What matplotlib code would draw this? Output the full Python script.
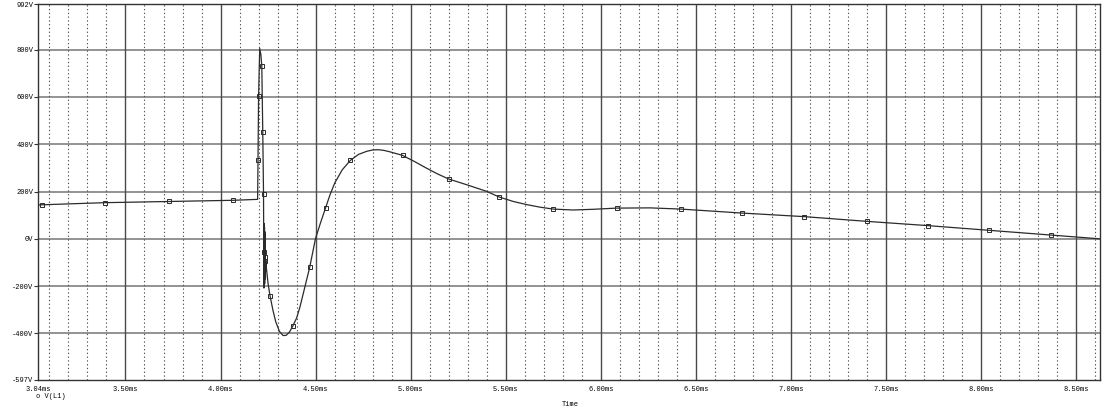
import numpy as np
import matplotlib.pyplot as plt

# Curva V(L1) (tiempo en ms, tension en V)
t_curva = [3.04, 3.059, 3.391, 3.728, 4.064, 4.195, 4.197, 4.200, 4.206, 4.212, 4.217,
           4.222, 4.226, 4.228, 4.229, 4.230, 4.231, 4.232, 4.233, 4.234, 4.235, 4.236,
           4.238, 4.241, 4.250, 4.260, 4.275, 4.290, 4.310, 4.329, 4.345, 4.362, 4.381,
           4.400, 4.417, 4.440, 4.469, 4.499, 4.525, 4.552, 4.575, 4.601, 4.640, 4.683,
           4.725, 4.768, 4.800, 4.829, 4.860, 4.891, 4.957, 5.020, 5.083, 5.140, 5.200,
           5.294, 5.399, 5.465, 5.540, 5.609, 5.680, 5.748, 5.853, 5.960, 6.083, 6.258,
           6.419, 6.743, 7.069, 7.398, 7.719, 8.043, 8.367, 8.625]
v_curva = [143, 144, 153, 158, 163, 167, 332, 605, 805, 780, 729,
           452, 190, -208, 65, -205, 50, -190, 30, -170, -60, -140,
           -90, -123, -190, -240, -300, -350, -392, -409, -408, -395, -367,
           -335, -290, -215, -120, 0, 66, 130, 185, 237, 292, 332,
           357, 370, 376, 377, 374, 368, 353, 327, 299, 275, 253,
           229, 201, 177, 158, 145, 134, 126, 122, 125, 130, 131,
           126, 109, 94, 74, 56, 36, 16, 0]

# Marcadores del trazo
t_marca = [3.059, 3.391, 3.728, 4.064, 4.197, 4.200, 4.217, 4.222, 4.226, 4.229,
           4.236, 4.232, 4.260, 4.381, 4.469, 4.552, 4.683, 4.957, 5.200, 5.465,
           5.748, 6.083, 6.419, 6.743, 7.069, 7.398, 7.719, 8.043, 8.367]
v_marca = [144, 153, 158, 163, 332, 605, 729, 452, 190, -56,
           -78, -92, -240, -367, -120, 130, 332, 353, 253, 177,
           126, 130, 126, 109, 94, 74, 56, 36, 16]

x_ticks = [3.04, 3.5, 4.0, 4.5, 5.0, 5.5, 6.0, 6.5, 7.0, 7.5, 8.0, 8.5]
x_labels = ["3.04ms", "3.50ms", "4.00ms", "4.50ms", "5.00ms", "5.50ms", "6.00ms",
            "6.50ms", "7.00ms", "7.50ms", "8.00ms", "8.50ms"]
y_ticks = [992, 800, 600, 400, 200, 0, -200, -400, -597]
y_labels = ["992V", "800V", "600V", "400V", "200V", "0V", "-200V", "-400V", "-597V"]

fig = plt.figure(figsize=(11.19, 4.2), dpi=100)
ax = fig.add_axes([38 / 1119, 1 - 380 / 420, 1062 / 1119, 375.7 / 420])

fuente = "Liberation Mono"

# rejilla
for y in [800, 600, 400, 200, 0, -200, -400]:
    ax.axhline(y, color="#8a8a8a", lw=1.3, zorder=1)
for x in x_ticks[1:]:
    ax.axvline(x, color="#4a4a4a", lw=1.0, zorder=1)
minores = [round(3.1 + 0.1 * i, 2) for i in range(56)]
for x in minores:
    if abs(x * 2 - round(x * 2)) > 1e-6:
        ax.axvline(x, color="#555555", lw=0.8, linestyle=(0, (1.2, 2.2)), zorder=1)

ax.plot(t_curva, v_curva, color="#2b2b2b", lw=0.9, zorder=3)
ax.plot(t_marca, v_marca, linestyle="none", marker="s", markersize=3.0,
        markerfacecolor="none", markeredgecolor="#2b2b2b", markeredgewidth=0.7, zorder=4)

ax.set_xlim(3.04, 8.625)
ax.set_ylim(-597, 992)
ax.set_xticks(x_ticks)
ax.set_xticklabels(x_labels, fontsize=5, family=fuente)
ax.set_yticks(y_ticks)
ax.set_yticklabels(y_labels, fontsize=5, family=fuente)
ax.tick_params(axis="x", length=0, pad=4)
ax.tick_params(axis="y", length=3, width=0.8, pad=0.5, color="#333333")
for s in ax.spines.values():
    s.set_color("#333333")
    s.set_linewidth(1.0)

fig.text(36 / 1119, 1 - 397 / 420, "o V(L1)", fontsize=5, family=fuente,
         ha="left", va="center")
fig.text(570 / 1119, 1 - 405 / 420, "Time", fontsize=5, family=fuente,
         ha="center", va="center")

fig.savefig("out.png", dpi=100)
